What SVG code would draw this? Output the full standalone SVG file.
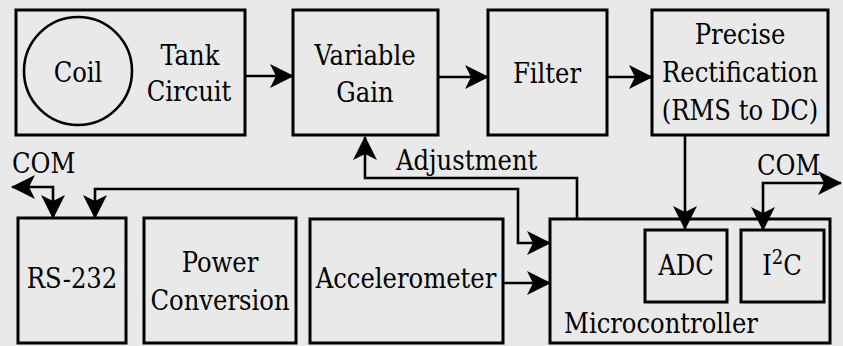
<svg xmlns="http://www.w3.org/2000/svg" width="843" height="346" viewBox="0 0 843 346" font-family="'DejaVu Serif Condensed', 'DejaVu Serif', serif">
<style>
.box{fill:none;stroke:#000;stroke-width:3}
.ln{fill:none;stroke:#000;stroke-width:2.6}
text{font-size:27px;fill:#000;font-stretch:condensed}
.c{text-anchor:middle}
</style>
<defs>
<marker id="ah" viewBox="0 0 24 24" markerUnits="userSpaceOnUse" markerWidth="24" markerHeight="24" refX="23" refY="12" orient="auto-start-reverse">
<path d="M0,0 L24,12 L0,24 L6,12 z" fill="#000"/>
</marker>
</defs>
<rect x="0" y="0" width="843" height="346" fill="#e9e9e9"/>
<g id="tank">
<rect class="box" x="16" y="10" width="229" height="125"/>
<circle cx="78" cy="71" r="54" fill="none" stroke="#000" stroke-width="2.6"/>
<text class="c" x="78" y="82">Coil</text>
<text class="c" x="190" y="65">Tank</text>
<text class="c" x="189" y="101">Circuit</text>
</g>
<g id="vgain">
<rect class="box" x="293" y="10" width="145" height="125"/>
<text class="c" x="365" y="65">Variable</text>
<text class="c" x="365" y="102">Gain</text>
</g>
<g id="filter">
<rect class="box" x="488" y="10" width="119" height="125"/>
<text class="c" x="547" y="83">Filter</text>
</g>
<g id="rect">
<rect class="box" x="652" y="10" width="176" height="125"/>
<text class="c" x="740" y="44">Precise</text>
<text class="c" x="740" y="82">Rectification</text>
<text class="c" x="740" y="120">(RMS to DC)</text>
</g>
<g id="rs232">
<rect class="box" x="18" y="218" width="108" height="125"/>
<text class="c" x="72" y="288">RS-232</text>
</g>
<g id="power">
<rect class="box" x="144" y="218" width="152" height="125"/>
<text class="c" x="220" y="272">Power</text>
<text class="c" x="220" y="310">Conversion</text>
</g>
<g id="accel">
<rect class="box" x="310" y="219" width="193" height="124"/>
<text class="c" x="406" y="288">Accelerometer</text>
</g>
<g id="micro">
<rect class="box" x="550" y="219" width="280" height="124"/>
<text x="564" y="333">Microcontroller</text>
</g>
<g id="adc">
<rect class="box" x="645" y="230" width="82" height="72"/>
<text class="c" x="686" y="275">ADC</text>
</g>
<g id="i2c">
<rect class="box" x="741" y="230" width="83" height="72"/>
<text class="c" x="782" y="275">I<tspan dy="-11" font-size="20">2</tspan><tspan dy="11">C</tspan></text>
</g>
<g id="labels">
<text x="12" y="173">COM</text>
<text x="757" y="175">COM</text>
<text x="396" y="170">Adjustment</text>
</g>
<g id="connectors">
<path class="ln" d="M245,76 L293,76" marker-end="url(#ah)"/>
<path class="ln" d="M438,77 L488,77" marker-end="url(#ah)"/>
<path class="ln" d="M607,77 L652,77" marker-end="url(#ah)"/>
<path class="ln" d="M685,135 L685,229" marker-end="url(#ah)"/>
<path class="ln" d="M577,219 L577,178 L365,178 L365,137" marker-end="url(#ah)"/>
<path class="ln" d="M95,218 L95,189 L518,189 L518,243 L550,243" marker-start="url(#ah)" marker-end="url(#ah)"/>
<path class="ln" d="M53,218 L53,187 L12,187" marker-start="url(#ah)" marker-end="url(#ah)"/>
<path class="ln" d="M763,230 L763,183 L841,183" marker-start="url(#ah)" marker-end="url(#ah)"/>
<path class="ln" d="M503,283 L550,283" marker-end="url(#ah)"/>
</g>
</svg>
